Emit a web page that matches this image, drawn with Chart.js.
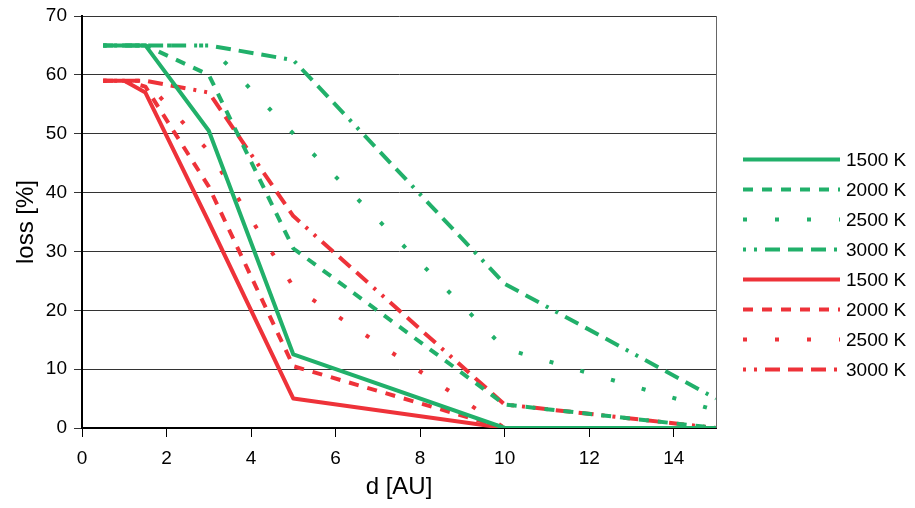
<!DOCTYPE html>
<html>
<head>
<meta charset="utf-8">
<script src="https://cdn.jsdelivr.net/npm/chart.js@4"></script>
<style>
  html, body { margin: 0; padding: 0; background: #fff; }
  #wrap { width: 915px; height: 508px; }
</style>
</head>
<body>
<div id="wrap"><canvas id="lossChart" width="915" height="508"></canvas></div>
<script>
// distance from the star [AU]
const distances = [0.5, 1, 1.5, 3, 5, 10, 15];
const temperatures = ['1500 K', '2000 K', '2500 K', '3000 K'];
const xTicks = [0, 2, 4, 6, 8, 10, 12, 14];
const yTicks = [0, 10, 20, 30, 40, 50, 60, 70];

// loss [%], green group
const green1500 = [65, 65, 65, 50.5, 12.5, 0, 0];
const green2000 = [65, 65, 65, 60, 30.5, 4, 0];
const green2500 = [65, 65, 65, 65, 50, 13.5, 3];
const green3000 = [65, 65, 65, 65, 62.5, 24.5, 5];

// loss [%], red group
const red1500 = [59, 59, 57, 35, 5, 0, 0];
const red2000 = [59, 59, 58, 41, 10.5, 0, 0];
const red2500 = [59, 59, 59, 47, 24, 0, 0];
const red3000 = [59, 59, 59, 57, 36, 4, 0];

const GREEN = '#21b06a';
const RED = '#ee3239';
const FONT = '"Liberation Sans", Arial, sans-serif';

// one dash pattern per temperature: solid, dashed, dotted, dash-dot-dot
const dashes = [[], [10, 9], [4, 28], [15, 8, 15, 8, 15, 8, 3, 8, 3, 8]];
const dashOffsets = [0, 0, 0, 69];

function makeSet(label, values, color, i) {
    return {
        label: label,
        data: values.map((v, k) => ({ x: distances[k], y: v })),
        borderColor: color,
        backgroundColor: color,
        borderWidth: 4,
        borderDash: dashes[i],
        borderDashOffset: dashOffsets[i],
        borderCapStyle: 'butt',
        borderJoinStyle: 'round',
        pointRadius: 0,
        tension: 0,
        fill: false,
    };
}

const datasets = [
    makeSet(temperatures[0], green1500, GREEN, 0),
    makeSet(temperatures[1], green2000, GREEN, 1),
    makeSet(temperatures[2], green2500, GREEN, 2),
    makeSet(temperatures[3], green3000, GREEN, 3),
    makeSet(temperatures[0], red1500, RED, 0),
    makeSet(temperatures[1], red2000, RED, 1),
    makeSet(temperatures[2], red2500, RED, 2),
    makeSet(temperatures[3], red3000, RED, 3),
];

// closes the plot box on the right side
const frame = {
    id: 'frame',
    afterDraw(chart) {
        const { ctx, chartArea } = chart;
        ctx.save();
        ctx.strokeStyle = '#666';
        ctx.lineWidth = 1;
        ctx.beginPath();
        ctx.moveTo(chartArea.right + 0.5, chartArea.top);
        ctx.lineTo(chartArea.right + 0.5, chartArea.bottom);
        ctx.stroke();
        ctx.restore();
    }
};

// legend with long line samples on the right
const lineLegend = {
    id: 'lineLegend',
    afterDraw(chart) {
        const ctx = chart.ctx;
        ctx.save();
        ctx.font = '19px ' + FONT;
        ctx.textBaseline = 'middle';
        ctx.fillStyle = '#000';
        chart.data.datasets.forEach((ds, i) => {
            const y = 159.5 + i * 30;
            ctx.strokeStyle = ds.borderColor;
            ctx.lineWidth = ds.borderWidth;
            ctx.lineCap = 'butt';
            ctx.setLineDash(ds.borderDash);
            ctx.lineDashOffset = ds.borderDashOffset;
            ctx.beginPath();
            ctx.moveTo(743, y);
            ctx.lineTo(840, y);
            ctx.stroke();
            ctx.fillText(ds.label, 846, y + 1);
        });
        ctx.restore();
    }
};

const ctx = document.getElementById('lossChart').getContext('2d');
new Chart(ctx, {
    type: 'line',
    data: { datasets: datasets },
    plugins: [frame, lineLegend],
    options: {
        responsive: false,
        animation: false,
        layout: { padding: { top: 16, right: 199, left: 0, bottom: 0 } },
        plugins: {
            legend: { display: false },
            tooltip: { enabled: false },
        },
        scales: {
            x: {
                type: 'linear',
                min: 0,
                max: 15,
                afterBuildTicks: (scale) => { scale.ticks = xTicks.map(v => ({ value: v })); },
                afterFit: (scale) => { scale.height = 80; },
                ticks: { color: '#000', font: { size: 19, family: FONT }, padding: 10, maxRotation: 0 },
                grid: { drawOnChartArea: false, drawTicks: true, tickLength: 9, color: '#000', lineWidth: 1 },
                border: { display: true, color: '#000', width: 2 },
                title: { display: true, text: 'd [AU]', color: '#000', font: { size: 24, family: FONT }, padding: { top: 4, bottom: 6 } },
            },
            y: {
                min: 0,
                max: 70,
                afterBuildTicks: (scale) => { scale.ticks = yTicks.map(v => ({ value: v })); },
                afterFit: (scale) => { scale.width = 82; scale.paddingTop = 0; },
                ticks: { color: '#000', font: { size: 19, family: FONT }, padding: 7 },
                grid: { drawOnChartArea: true, drawTicks: true, tickLength: 8, color: '#333', lineWidth: 1 },
                border: { display: true, color: '#000', width: 2 },
                title: { display: true, text: 'loss [%]', color: '#000', font: { size: 24, family: FONT }, padding: { top: 12, bottom: 4 } },
            },
        },
    },
});
</script>
</body>
</html>
